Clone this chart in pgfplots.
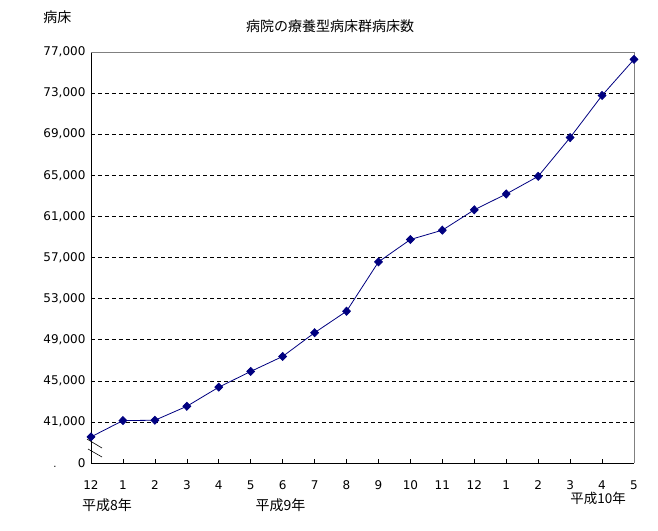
\documentclass[border=0pt]{standalone}
\usepackage{pgfplots}
\pgfplotsset{compat=1.18}
\usepackage{fontspec}
\setmainfont{Noto Sans CJK JP}
\newfontfamily\dejavu{DejaVu Sans}
\definecolor{navyline}{RGB}{0,0,128}
\begin{document}
\begin{tikzpicture}
\path[use as bounding box] (-91pt,-67pt) rectangle (567pt,463pt);
\begin{axis}[
  at={(0pt,0pt)}, anchor=south west,
  scale only axis, width=543pt, height=411pt,
  xmin=0, xmax=17, ymin=37000, ymax=77000,
  axis x line*=bottom, axis y line*=left,
  axis line style={black, line width=0.8pt},
  xtick={0,...,17},
  xticklabels={12,1,2,3,4,5,6,7,8,9,10,11,12,1,2,3,4,5},
  xtick align=inside, major tick length=4pt,
  xtick style={black, line width=0.6pt},
  ytick={37000,41000,45000,49000,53000,57000,61000,65000,69000,73000,77000},
  yticklabels={0,{41,000},{45,000},{49,000},{53,000},{57,000},{61,000},{65,000},{69,000},{73,000},{77,000}},
  scaled y ticks=false,
  ytick style={draw=none},
  ticklabel style={font=\dejavu\fontsize{12}{14}\selectfont},
  xticklabel style={yshift=-14pt},
  yticklabel style={xshift=-2pt},
  extra y ticks={41000,45000,49000,53000,57000,61000,65000,69000,73000},
  extra y tick labels={},
  extra y tick style={grid=major, major grid style={black, line width=0.6pt, dash pattern=on 4pt off 3pt}},
  clip=false,
]
\draw[gray, line width=0.8pt] (rel axis cs:0,1) -- (rel axis cs:1,1) -- (rel axis cs:1,0);
\addplot[color=navyline, line width=0.8pt, mark=diamond*, mark size=4pt, mark options={fill=navyline, draw=navyline, xscale=1.3}]
coordinates {
(0,39540) (1,41130) (2,41160) (3,42520) (4,44380) (5,45910) (6,47370) (7,49680) (8,51770)
(9,56570) (10,58750) (11,59660) (12,61640) (13,63180) (14,64900) (15,68670) (16,72770) (17,76280)
};
\end{axis}
\draw[black, line width=0.6pt] (-4pt,24pt) -- (11pt,15pt);
\draw[black, line width=0.6pt] (-3pt,14pt) -- (11pt,6pt);
\node[font=\dejavu\fontsize{10}{12}\selectfont] at (-36pt,-4pt) {.};
\node[font=\fontsize{14}{16}\selectfont] at (-33.5pt,446pt) {病床};
\node[font=\fontsize{14}{16}\selectfont] at (239pt,437pt) {病院の療養型病床群病床数};
\node[font=\fontsize{14}{16}\selectfont] at (16pt,-42.5pt) {平成8年};
\node[font=\fontsize{14}{16}\selectfont] at (189.5pt,-42.5pt) {平成9年};
\node[font=\fontsize{13.5}{15}\selectfont, inner sep=0pt] at (507pt,-35.5pt) {平成10年};
\end{tikzpicture}
\end{document}
